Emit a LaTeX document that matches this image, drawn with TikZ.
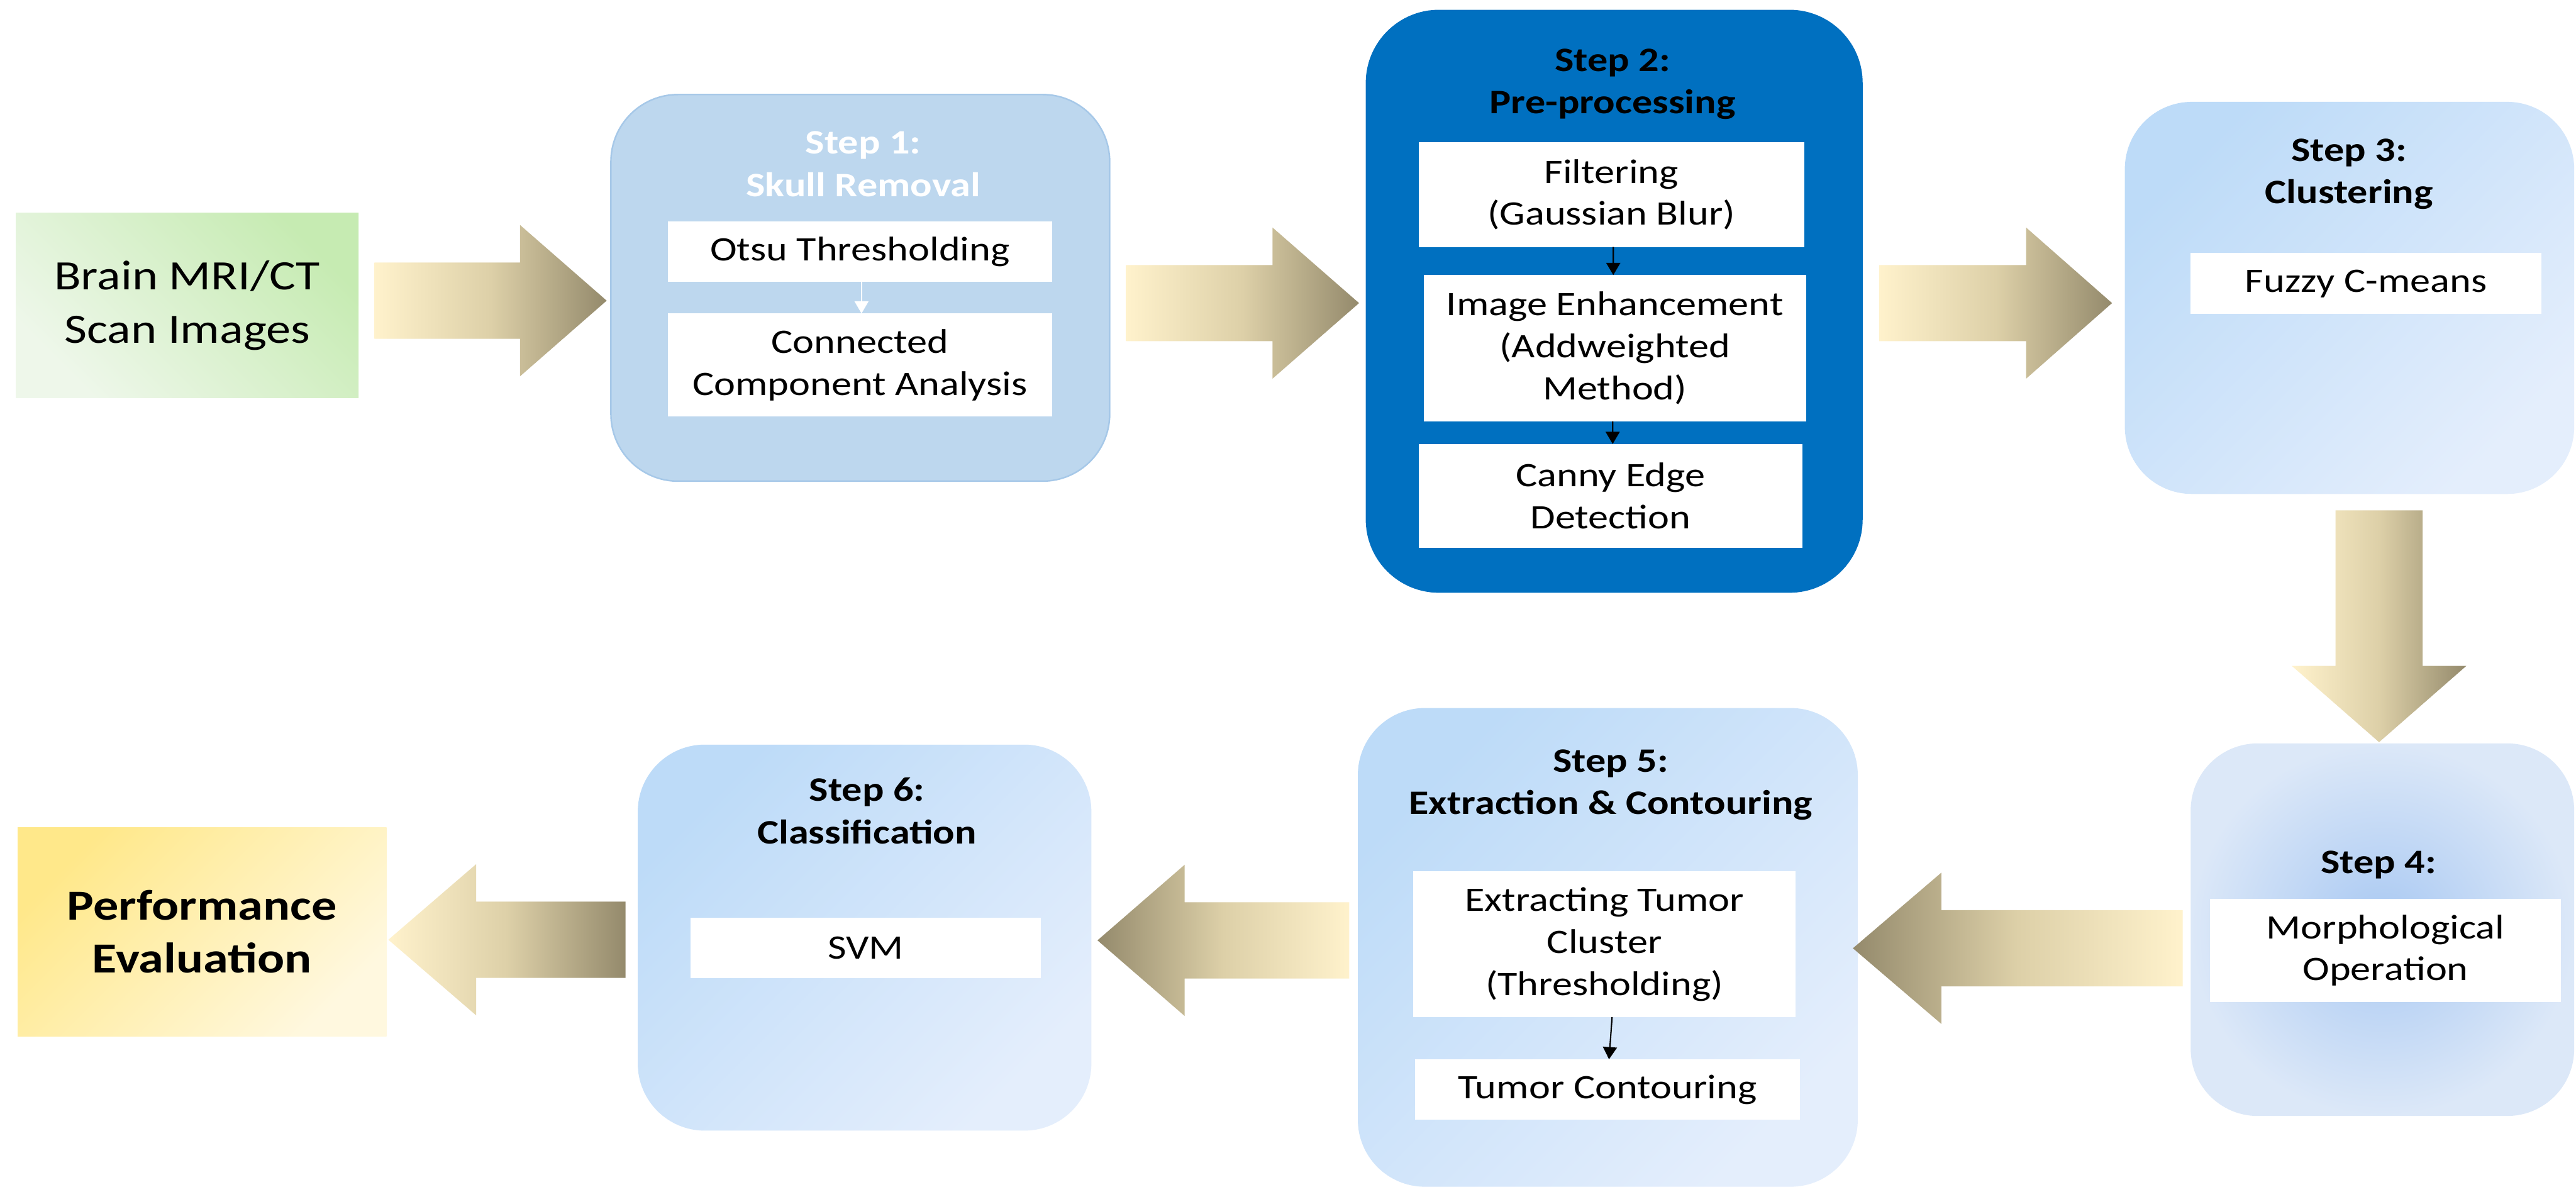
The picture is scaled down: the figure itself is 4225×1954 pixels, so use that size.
\documentclass[tikz,border=0pt]{standalone}
\usepackage{fontspec}
\setmainfont{Carlito}[FakeStretch=1.18]
\usetikzlibrary{arrows.meta,calc}

% palette
\definecolor{arLight}{HTML}{FFF2CC}
\definecolor{arMid}{HTML}{DDD0A8}
\definecolor{arDark}{HTML}{948A6C}
\definecolor{stepOneFill}{HTML}{BDD7EE}
\definecolor{stepOneLine}{HTML}{A6C8E8}
\definecolor{stepTwoFill}{HTML}{0070C0}
\definecolor{paleBlueA}{HTML}{BDDBF8}
\definecolor{paleBlueB}{HTML}{E4EEFC}
\definecolor{morphInner}{HTML}{A8C8F2}
\definecolor{morphOuter}{HTML}{DCE8F8}
\definecolor{greenA}{HTML}{C6EBB2}
\definecolor{greenB}{HTML}{EEF7EA}
\definecolor{yellowA}{HTML}{FFE88A}
\definecolor{yellowB}{HTML}{FFF8DF}

\newcommand\stepbodyfont{\fontsize{16}{19.6}\selectfont}
\newcommand\steptitlefont{\fontsize{16}{19.8}\selectfont\bfseries}

% gradients of the block arrows
\pgfdeclarehorizontalshading{arrowlighttodark}{100bp}{color(0bp)=(arLight); color(25bp)=(arLight); color(50bp)=(arMid); color(75bp)=(arDark); color(100bp)=(arDark)}
\pgfdeclarehorizontalshading{arrowdarktolight}{100bp}{color(0bp)=(arDark); color(25bp)=(arDark); color(50bp)=(arMid); color(75bp)=(arLight); color(100bp)=(arLight)}

% horizontal block arrow: shading, tail point, tip point, signed head length
\newcommand\flowarrowH[4]{%
  \shade[shading=#1] let \p1=(#2), \p2=(#3) in
    (\x1,\y1+6.25mm) -- ({\x2-(#4)},\y1+6.25mm) -- ({\x2-(#4)},\y1+12.4mm)
    -- (\x2,\y1) -- ({\x2-(#4)},\y1-12.4mm) -- ({\x2-(#4)},\y1-6.25mm)
    -- (\x1,\y1-6.25mm) -- cycle;}
% downward block arrow: shading, tail point, tip point
\newcommand\flowarrowV[3]{%
  \shade[shading=#1] let \p1=(#2), \p2=(#3) in
    (\x1-7.15mm,\y1) -- (\x1+7.15mm,\y1) -- (\x1+7.15mm,\y2+12.5mm)
    -- (\x1+14.3mm,\y2+12.5mm) -- (\x1,\y2) -- (\x1-14.3mm,\y2+12.5mm)
    -- (\x1-7.15mm,\y2+12.5mm) -- cycle;}

\begin{document}
\begin{tikzpicture}[x=0.1mm,y=-0.1mm,
  stepbox/.style={rounded corners=11mm, inner sep=0pt, outer sep=0pt},
  endbox/.style={inner sep=0pt, outer sep=0pt, align=center},
  substep/.style={fill=white, inner sep=0pt, outer sep=0pt, align=center, font=\stepbodyfont},
  steptitle/.style={inner sep=0pt, align=center, font=\steptitlefont},
  subarrow/.style={-{Triangle[length=2mm,width=2.3mm]}, line width=0.22mm},
  paleshade/.style={top color=paleBlueA, bottom color=paleBlueB, shading angle=45}
]
\path[fill=white] (0,0) rectangle (4225,1954);
\useasboundingbox (0,0) rectangle (4225,1954);

% input and output
\node[endbox, top color=greenA, bottom color=greenB, shading angle=-45,
      minimum width=56.2mm, minimum height=30.3mm,
      font=\fontsize{19.5}{25}\selectfont] (in) at (307,500.5) {Brain MRI/CT\\Scan Images};
\node[endbox, top color=yellowA, bottom color=yellowB, shading angle=45,
      minimum width=60.5mm, minimum height=34.3mm,
      font=\fontsize{20}{24.7}\selectfont\bfseries] (perf) at (331.5,1528) {Performance\\Evaluation};

% step 1
\node[stepbox, fill=stepOneFill, draw=stepOneLine, line width=0.25mm,
      minimum width=81.8mm, minimum height=63.4mm] (s1) at (1411,472) {};
\node[steptitle, text=white] (t1) at (1416,269) {Step 1:\\Skull Removal};
\node[substep, minimum width=63.1mm, minimum height=9.9mm] (otsu) at (1410.5,412.5) {Otsu Thresholding};
\node[substep, minimum width=63.1mm, minimum height=16.9mm] (cca) at (1410.5,598.5) {Connected\\Component Analysis};
\draw[subarrow, white, line width=0.15mm] ([xshift=0.25mm]otsu.south) -- ([xshift=0.25mm]cca.north);

% step 2
\node[stepbox, rounded corners=12mm, fill=stepTwoFill,
      minimum width=81.5mm, minimum height=95.6mm] (s2) at (2647.5,494) {};
\node[steptitle] (t2) at (2645,138) {Step 2:\\Pre-processing};
\node[substep, minimum width=63.2mm, minimum height=17.2mm] (filt) at (2643,319) {Filtering\\(Gaussian Blur)};
\node[substep, minimum width=62.7mm, minimum height=24mm] (enh) at (2648.5,571) {Image Enhancement\\(Addweighted\\Method)};
\node[substep, minimum width=62.9mm, minimum height=17mm] (canny) at (2641.5,813) {Canny Edge\\Detection};
\draw[subarrow] ([xshift=0.3mm]filt.south) -- ([xshift=-0.25mm]enh.north);
\draw[subarrow] ([xshift=-0.35mm]enh.south) -- ([xshift=0.35mm]canny.north);

% step 3
\node[stepbox, paleshade, minimum width=73.7mm, minimum height=64.3mm] (s3) at (3853.5,488.5) {};
\node[steptitle] (t3) at (3853,285.5) {Step 3:\\Clustering};
\node[substep, minimum width=57.5mm, minimum height=10mm] (fcm) at (3880.5,465) {Fuzzy C-means};

% step 4
\node[stepbox, inner color=morphInner, outer color=morphOuter,
      minimum width=62.9mm, minimum height=61.1mm] (s4) at (3907.5,1524.5) {};
\node[steptitle] (t4) at (3901,1418) {Step 4:};
\node[substep, minimum width=57.5mm, minimum height=16.9mm] (morph) at (3912.5,1558.5) {Morphological\\Operation};

% step 5
\node[stepbox, paleshade, minimum width=82mm, minimum height=78.5mm] (s5) at (2637,1553.5) {};
\node[steptitle] (t5) at (2642,1287) {Step 5:\\Extraction \& Contouring};
\node[substep, minimum width=62.7mm, minimum height=23.9mm] (ext) at (2631.5,1548.5) {Extracting Tumor\\Cluster\\(Thresholding)};
\node[substep, minimum width=63.1mm, minimum height=9.9mm] (cont) at (2636.5,1786.5) {Tumor Contouring};
\draw[subarrow] ([xshift=1.25mm]ext.south) -- ([xshift=0.25mm]cont.north);

% step 6
\node[stepbox, paleshade, minimum width=74.4mm, minimum height=63.3mm] (s6) at (1418,1537.5) {};
\node[steptitle] (t6) at (1422,1329.5) {Step 6:\\Classification};
\node[substep, minimum width=57.4mm, minimum height=9.9mm] (svm) at (1420,1554.5) {SVM};

% flow between the stages
\flowarrowH{arrowlighttodark}{$(in.east)+(26,-7.5)$}{$(s1.west)+(-7,0)$}{14.2mm}
\flowarrowH{arrowlighttodark}{$(s1.east)+(27,25)$}{$(s2.west)+(-11,0)$}{14.2mm}
\flowarrowH{arrowlighttodark}{$(s2.east)+(27,3)$}{$(s3.west)+(-21,0)$}{14.1mm}
\flowarrowV{arrowlighttodark}{$(s3.south)+(48.5,27)$}{$(s4.north)+(0,-2)$}
\flowarrowH{arrowdarktolight}{$(s4.west)+(-13,30.5)$}{$(s5.east)+(-8,0)$}{-14.5mm}
\flowarrowH{arrowdarktolight}{$(s5.west)+(-14,-11.5)$}{$(s6.east)+(10,0)$}{-14.3mm}
\flowarrowH{arrowlighttodark}{$(s6.west)+(-20,3.5)$}{$(perf.east)+(3,0)$}{-14.4mm}
\end{tikzpicture}
\end{document}
